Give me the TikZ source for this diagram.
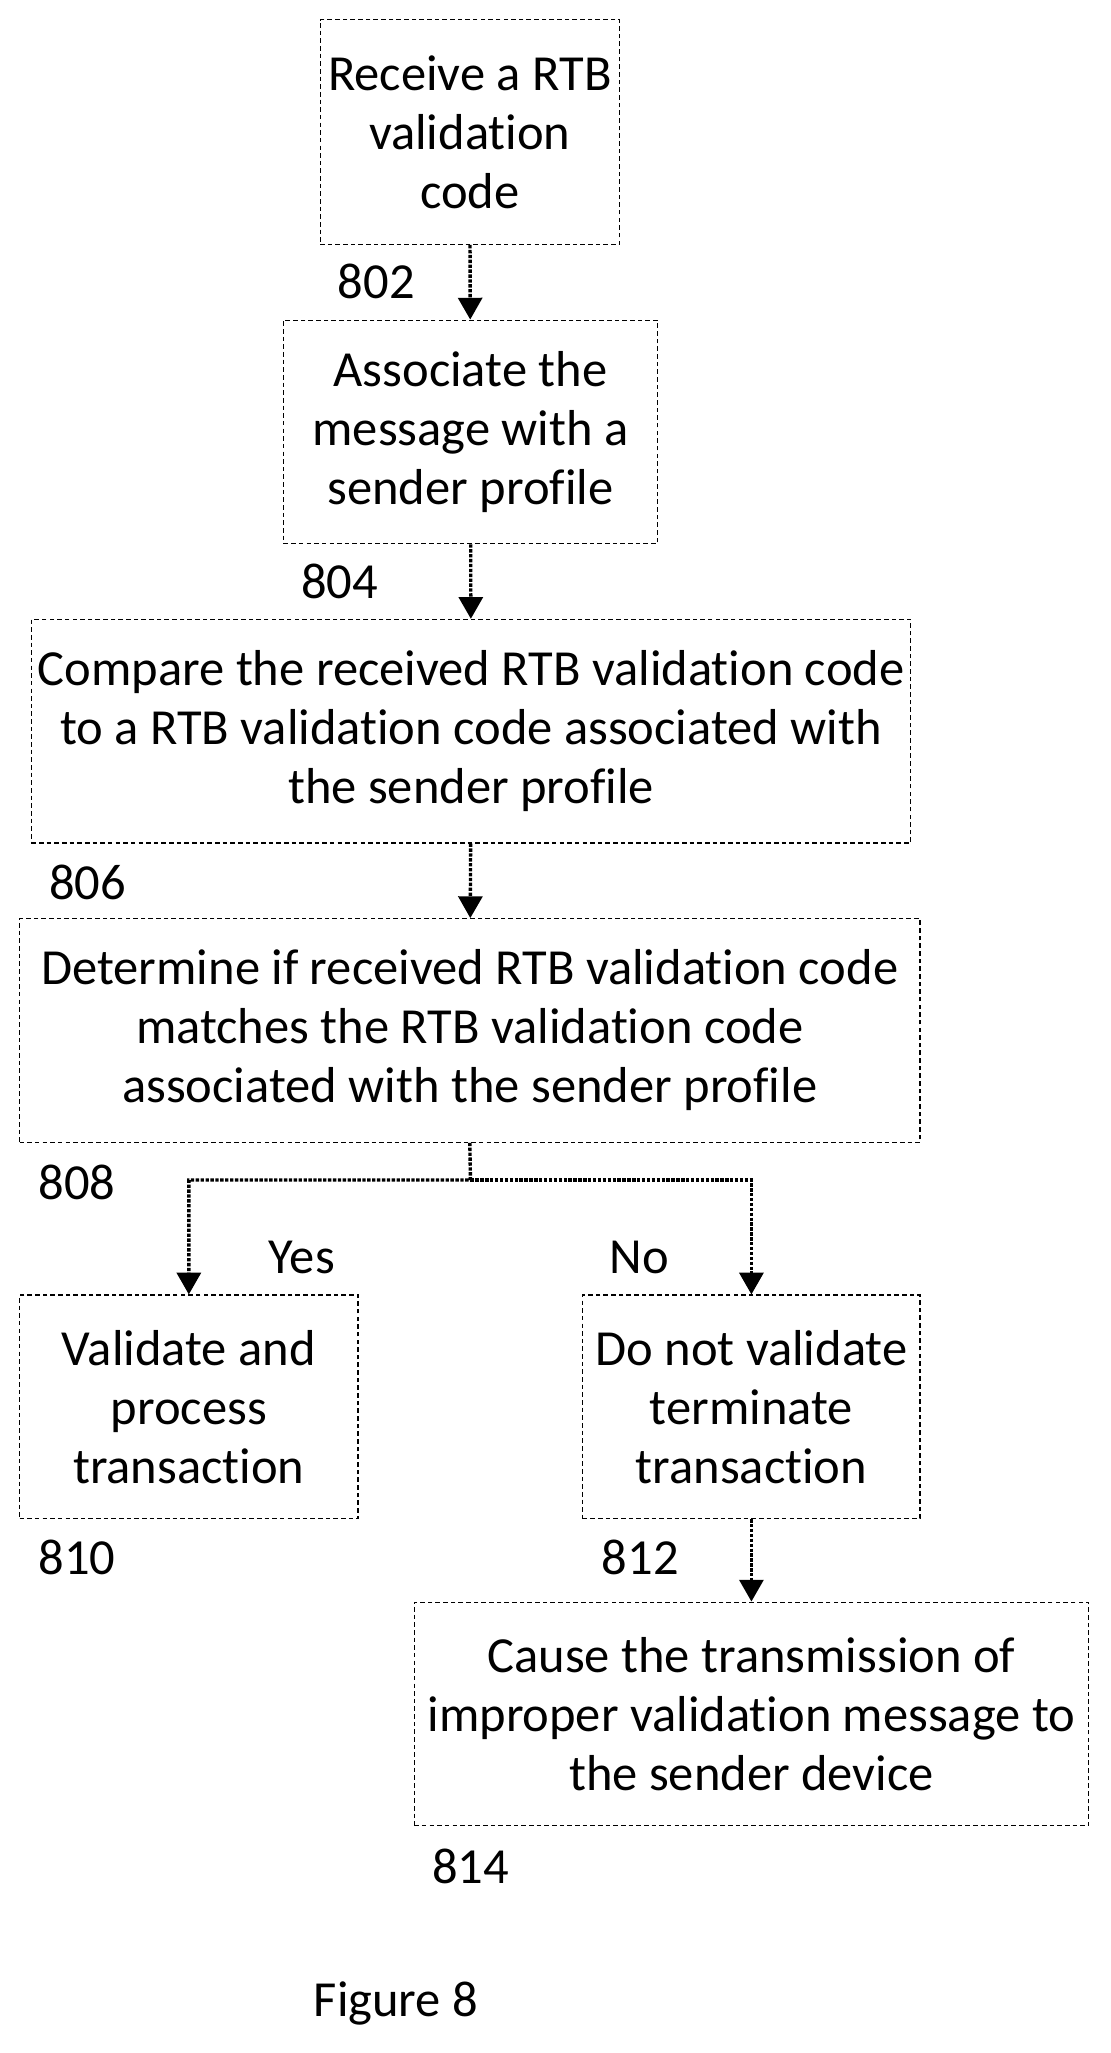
\documentclass[tikz,border=0pt]{standalone}
\usepackage{fontspec}
\setmainfont{Carlito}[Ligatures=NoCommon]
\usetikzlibrary{arrows.meta, positioning}
\tikzset{%
	step box/.style={
		draw,
		densely dashed,
		line width=0.8pt,
		align=center,
		inner sep=0pt,
		font=\fontsize{33}{38.5}\selectfont
	},
	flow arrow/.style={
		-{Triangle[length=0.5cm,width=0.55cm]},
		densely dotted,
		line width=2.2pt
	},
	step label/.style={
		font=\fontsize{33}{36}\selectfont
	},
}

\begin{document}
\begin{tikzpicture}[x=0.03cm,y=-0.03cm]
			\useasboundingbox (0,0) rectangle (850,1571);
			
			% Boxes
			\node[step box, minimum width=6.87cm, minimum height=5.16cm] (recv) at (359.5,101) {Receive a RTB\\validation\\code};
			\node[step box, minimum width=8.58cm, minimum height=5.13cm] (assoc) at (360,330.5) {Associate the\\message with a\\sender profile};
			\node[step box, minimum width=20.19cm, minimum height=5.13cm] (comp) at (360.5,559.5) {Compare the received RTB validation code\\to a RTB validation code associated with\\the sender profile};
			\node[step box, minimum width=20.67cm, minimum height=5.13cm] (det) at (359.5,788.5) {Determine if received RTB validation code\\matches the RTB validation code\\associated with the sender profile};
			\node[step box, minimum width=7.77cm, minimum height=5.13cm] (valid) at (144.5,1076.5) {Validate and\\process\\transaction};
			\node[step box, minimum width=7.74cm, minimum height=5.13cm] (term) at (575,1076.5) {Do not validate\\terminate\\transaction};
			\node[step box, minimum width=15.48cm, minimum height=5.13cm] (cause) at (575,1311.5) {Cause the transmission of\\improper validation message to\\the sender device};
			
			% Labels
			\node[step label] (l802) at (288,215) {802};
			\node[step label] (l804) at (260,445) {804};
			\node[step label] (l806) at (67,675) {806};
			\node[step label] (l808) at (59,905) {808};
			\node[step label] (l810) at (59,1192) {810};
			\node[step label] (l812) at (490,1192) {812};
			\node[step label] (l814) at (360,1428) {814};
			\node[step label] (yes) at (231,962) {Yes};
			\node[step label] (no) at (489,962) {No};
			\node[step label] (fig) at (303,1533) {Figure 8};
			
			% Arrows
			\draw[flow arrow] (recv) -- (assoc);
			\draw[flow arrow] (assoc) -- (comp);
			\draw[flow arrow] (comp) -- (det);
			\coordinate (split) at (360,903);
			\draw[flow arrow] (det.south) -- (split) -| (valid.north);
			\draw[flow arrow] (split) -| (term.north);
			\draw[flow arrow] (term) -- (cause);
			
		\end{tikzpicture}
\end{document}
